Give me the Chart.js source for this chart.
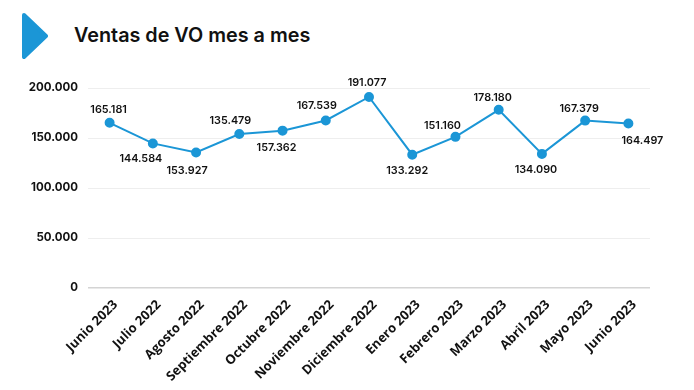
<!DOCTYPE html>
<html lang="es">
<head>
<meta charset="utf-8">
<title>Ventas de VO mes a mes</title>
<script src="https://cdn.jsdelivr.net/npm/chart.js@4/dist/chart.umd.min.js"></script>
<style>
  html, body { margin: 0; padding: 0; background: #fff; }
  #wrap { position: relative; width: 694px; height: 390px; overflow: hidden; }
  #graf { position: absolute; left: 0; top: 0; }
  #flecha { position: absolute; left: 20px; top: 12px; }
  #titulo { position: absolute; left: 74px; top: 23px; font: 600 19.8px Inter, sans-serif; color: #111; white-space: nowrap; }
</style>
</head>
<body>
<div id="wrap">
  <svg id="flecha" width="28" height="48" viewBox="0 0 28 48">
    <path d="M4 3 L26 24 L4 45 Z" fill="#1b96d6" stroke="#1b96d6" stroke-width="4" stroke-linejoin="round"/>
  </svg>
  <div id="titulo">Ventas de VO mes a mes</div>
  <canvas id="graf" width="694" height="390"></canvas>
</div>
<script>
const meses = ["Junio 2023", "Julio 2022", "Agosto 2022", "Septiembre 2022", "Octubre 2022", "Noviembre 2022", "Diciembre 2022", "Enero 2023", "Febrero 2023", "Marzo 2023", "Abril 2023", "Mayo 2023", "Junio 2023"];
const ventas = [165181, 144584, 135479, 153927, 157362, 167539, 191077, 133292, 151160, 178180, 134090, 167379, 164497];
// las etiquetas del original no siempre coinciden con el punto (ago/sep cambiadas)
const etiquetas = ["165.181", "144.584", "153.927", "135.479", "157.362", "167.539", "191.077", "133.292", "151.160", "178.180", "134.090", "167.379", "164.497"];
const ticksY = [0, 50000, 100000, 150000, 200000];

// desplazamiento de cada etiqueta respecto a su punto
const despX = [-1, -12, -9, -9, -6, -9, -2, -5, -13, -6, -6, -6, 14];
const despY = [-13, 15, 18, -13, 17, -15, -14, 16, -11, -12, 16, -12, 17];

const etiquetasPlugin = {
  id: "etiquetas",
  afterDatasetsDraw(chart) {
    const ctx = chart.ctx;
    const puntos = chart.getDatasetMeta(0).data;
    ctx.save();
    ctx.font = "600 10.8px Inter, sans-serif";
    ctx.fillStyle = "#111";
    ctx.textAlign = "center";
    ctx.textBaseline = "middle";
    puntos.forEach((p, i) => {
      ctx.fillText(etiquetas[i], p.x + despX[i], p.y + despY[i]);
    });
    ctx.restore();
  }
};

new Chart(document.getElementById("graf"), {
  type: "line",
  data: {
    labels: meses,
    datasets: [{
      data: ventas,
      borderColor: "#1b96d6",
      backgroundColor: "#1b96d6",
      borderWidth: 2,
      pointRadius: 4,
      pointHoverRadius: 4,
      tension: 0
    }]
  },
  options: {
    responsive: false,
    animation: false,
    layout: { padding: { top: 88, right: 44 } },
    plugins: { legend: { display: false }, tooltip: { enabled: false } },
    scales: {
      y: {
        min: 0,
        max: 200000,
        afterBuildTicks(scale) { scale.ticks = ticksY.map(v => ({ value: v })); },
        afterFit(scale) { scale.width = 88; },
        border: { display: false },
        grid: {
          drawTicks: false,
          color: c => c.tick.value === 0 ? "#d4d4d4" : "#eeeeee",
          lineWidth: c => c.tick.value === 0 ? 1.5 : 1
        },
        ticks: {
          padding: 10,
          color: "#111",
          font: { family: "Inter, sans-serif", size: 11.5, weight: "700" },
          callback: v => v === 0 ? "0" : v.toLocaleString("de-DE")
        }
      },
      x: {
        offset: true,
        afterFit(scale) { scale.height = 102; },
        border: { display: false },
        grid: { display: false },
        ticks: {
          autoSkip: false,
          minRotation: 45,
          maxRotation: 45,
          padding: 1,
          labelOffset: 6,
          color: "#111",
          font: { family: "'Open Sans', sans-serif", size: 13, weight: "700" }
        }
      }
    }
  },
  plugins: [etiquetasPlugin]
});
</script>
</body>
</html>
